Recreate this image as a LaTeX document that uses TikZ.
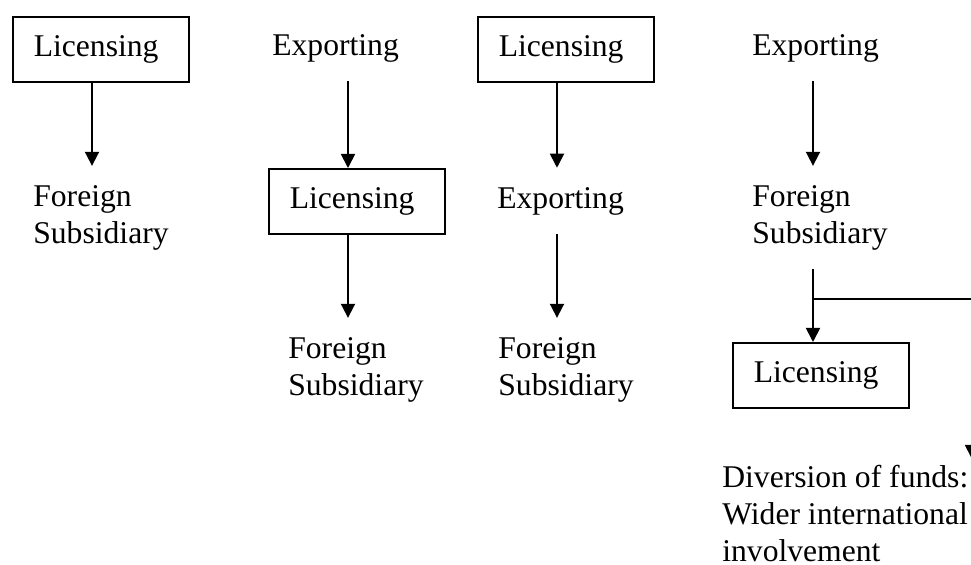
\documentclass[tikz,border=0pt]{standalone}
\usepackage{fontspec}
\setmainfont{Liberation Serif}
\usetikzlibrary{arrows.meta}
\begin{document}
\begin{tikzpicture}[x=0.02cm,y=-0.02cm,
    font=\fontsize{18pt}{21pt}\selectfont,
    lbl/.style={inner xsep=0pt,inner ysep=10.8pt,anchor=base west,align=left},
    box/.style={draw,line width=1pt,anchor=north west,align=left,
      text width=76.5pt,inner xsep=11.9pt,minimum height=36.9pt},
    arr/.style={line width=1pt,-{Triangle[length=8pt,width=8pt]}}]
  \useasboundingbox (0,0) rectangle (971,565);
  \pgfmathsetmacro{\ca}{92}
  \pgfmathsetmacro{\cb}{348}
  \pgfmathsetmacro{\cc}{557}
  \pgfmathsetmacro{\cd}{813}
  \coordinate (c1) at (\ca,0);
  \coordinate (c2) at (\cb,0);
  \coordinate (c3) at (\cc,0);
  \coordinate (c4) at (\cd,0);
  % first chain
  \node[box] (lic1) at (12,16) {Licensing};
  \node[lbl] (fs1) at (33,243) {Foreign\\Subsidiary};
  % second chain
  \node[lbl] (exp1) at (272,55) {Exporting};
  \node[box] (lic2) at (268,168) {Licensing};
  \node[lbl] (fs2) at (288,395) {Foreign\\Subsidiary};
  % third chain
  \node[box] (lic3) at (477,16) {Licensing};
  \node[lbl] (exp2) at (497,208) {Exporting};
  \node[lbl] (fs3) at (498,395) {Foreign\\Subsidiary};
  % fourth chain
  \node[lbl] (exp3) at (752,55) {Exporting};
  \node[lbl] (fs4) at (752,243) {Foreign\\Subsidiary};
  \node[box] (lic4) at (732,342) {Licensing};
  \node[lbl] (div) at (722,561) {Diversion of funds:\\Wider international\\involvement};
  \coordinate (br) at (\cd,299);
  \coordinate (tipr) at (972,459);

  \draw[arr] (lic1.south -| c1) -- (fs1.north -| c1);
  \draw[arr] (exp1.south -| c2) -- (lic2.north -| c2);
  \draw[arr] (lic2.south -| c2) -- (fs2.north -| c2);
  \draw[arr] (lic3.south -| c3) -- (exp2.north -| c3);
  \draw[arr] (exp2.south -| c3) -- (fs3.north -| c3);
  \draw[arr] (exp3.south -| c4) -- (fs4.north -| c4);
  \draw[arr] (fs4.south -| c4) -- (lic4.north -| c4);
  \draw[arr] (br) -| (tipr);
\end{tikzpicture}
\end{document}
